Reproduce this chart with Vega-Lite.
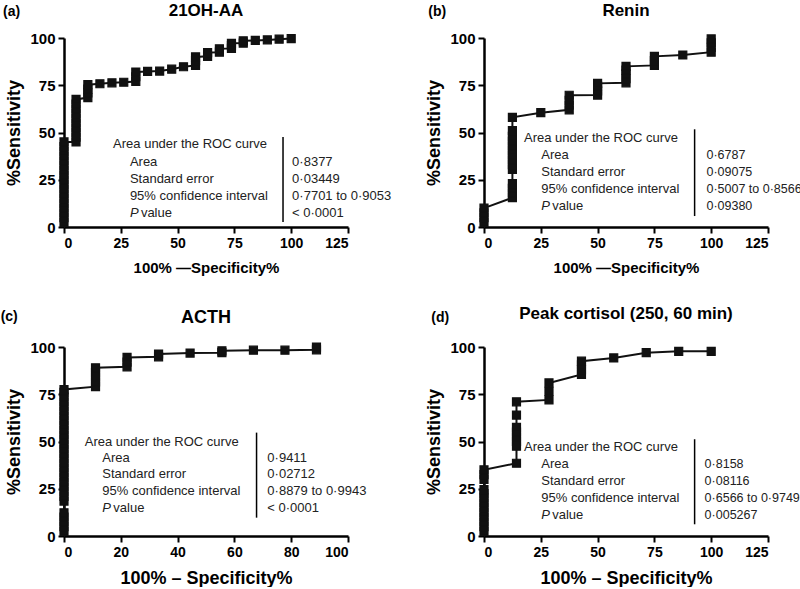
{
  "$schema": "https://vega.github.io/schema/vega-lite/v6.json",
  "padding": {"left": 0, "top": 2, "right": 0, "bottom": 0},
  "background": "white",
  "config": {
    "view": {"stroke": null},
    "font": "Liberation Sans",
    "axis": {
      "grid": false,
      "domainColor": "#000", "domainWidth": 2.5,
      "tickColor": "#000", "tickWidth": 2, "tickSize": 6,
      "labelColor": "#000", "labelFont": "Liberation Sans", "labelFontWeight": "bold", "labelFontSize": 14, "labelPadding": 3,
      "titleColor": "#000", "titleFont": "Liberation Sans", "titleFontWeight": "bold"
    },
    "axisY": {"labelFontSize": 15, "titleFontSize": 18, "titlePadding": 6},
    "axisX": {"titleFontSize": 15, "titlePadding": 10},
    "text": {"font": "Liberation Sans", "fontSize": 13, "color": "#222"},
    "square": {"opacity": 1}
  },
  "datasets": {
    "statsA": [{"letter": "(a)", "name": "21OH-AA", "header": "Area under the ROC curve", "labels": ["Area", "Standard error", "95% confidence interval"], "values": ["0·8377", "0·03449", "0·7701 to 0·9053", "< 0·0001"]}],
    "statsB": [{"letter": "(b)", "name": "Renin", "header": "Area under the ROC curve", "labels": ["Area", "Standard error", "95% confidence interval"], "values": ["0·6787", "0·09075", "0·5007 to 0·8566", "0·09380"]}],
    "statsC": [{"letter": "(c)", "name": "ACTH", "header": "Area under the ROC curve", "labels": ["Area", "Standard error", "95% confidence interval"], "values": ["0·9411", "0·02712", "0·8879 to 0·9943", "< 0·0001"]}],
    "statsD": [{"letter": "(d)", "name": "Peak cortisol (250, 60 min)", "header": "Area under the ROC curve", "labels": ["Area", "Standard error", "95% confidence interval"], "values": ["0·8158", "0·08116", "0·6566 to 0·9749", "0·005267"]}],
    "rocA": [
      {"fpr": 0, "sens": 2.5}, {"fpr": 0, "sens": 5}, {"fpr": 0, "sens": 7.5}, {"fpr": 0, "sens": 10}, {"fpr": 0, "sens": 12.5}, {"fpr": 0, "sens": 15}, {"fpr": 0, "sens": 17.5}, {"fpr": 0, "sens": 20}, {"fpr": 0, "sens": 22.5}, {"fpr": 0, "sens": 25}, {"fpr": 0, "sens": 27.5}, {"fpr": 0, "sens": 30}, {"fpr": 0, "sens": 32.5}, {"fpr": 0, "sens": 35}, {"fpr": 0, "sens": 37.5}, {"fpr": 0, "sens": 40}, {"fpr": 0, "sens": 42.5}, {"fpr": 0, "sens": 45},
      {"fpr": 5.3, "sens": 45}, {"fpr": 5.3, "sens": 47.5}, {"fpr": 5.3, "sens": 50}, {"fpr": 5.3, "sens": 52.5}, {"fpr": 5.3, "sens": 55}, {"fpr": 5.3, "sens": 57.5}, {"fpr": 5.3, "sens": 60}, {"fpr": 5.3, "sens": 62.5}, {"fpr": 5.3, "sens": 65}, {"fpr": 5.3, "sens": 67.5},
      {"fpr": 10.5, "sens": 68.5}, {"fpr": 10.5, "sens": 71}, {"fpr": 10.5, "sens": 73}, {"fpr": 10.5, "sens": 75.3},
      {"fpr": 15.8, "sens": 75.8}, {"fpr": 21.1, "sens": 76.3}, {"fpr": 26.3, "sens": 76.6},
      {"fpr": 31.6, "sens": 77}, {"fpr": 31.6, "sens": 79.5}, {"fpr": 31.6, "sens": 82},
      {"fpr": 36.8, "sens": 82.3}, {"fpr": 42.1, "sens": 82.5}, {"fpr": 47.4, "sens": 83.5}, {"fpr": 52.6, "sens": 84.8},
      {"fpr": 57.9, "sens": 85.5}, {"fpr": 57.9, "sens": 88}, {"fpr": 57.9, "sens": 90},
      {"fpr": 63.2, "sens": 90.3}, {"fpr": 63.2, "sens": 92.3},
      {"fpr": 68.4, "sens": 92.5}, {"fpr": 68.4, "sens": 94.3},
      {"fpr": 73.7, "sens": 94.5}, {"fpr": 73.7, "sens": 96}, {"fpr": 73.7, "sens": 97.2},
      {"fpr": 78.9, "sens": 97.3}, {"fpr": 78.9, "sens": 98.5},
      {"fpr": 84.2, "sens": 98.7}, {"fpr": 89.5, "sens": 99}, {"fpr": 94.7, "sens": 99.4}, {"fpr": 100, "sens": 99.7}
    ],
    "rocB": [
      {"fpr": 0, "sens": 2.5}, {"fpr": 0, "sens": 5}, {"fpr": 0, "sens": 7.5}, {"fpr": 0, "sens": 10},
      {"fpr": 12.5, "sens": 15.5}, {"fpr": 12.5, "sens": 18}, {"fpr": 12.5, "sens": 20.5}, {"fpr": 12.5, "sens": 23}, {"fpr": 12.5, "sens": 30.5}, {"fpr": 12.5, "sens": 33}, {"fpr": 12.5, "sens": 35.5}, {"fpr": 12.5, "sens": 38}, {"fpr": 12.5, "sens": 40.5}, {"fpr": 12.5, "sens": 43}, {"fpr": 12.5, "sens": 45.5}, {"fpr": 12.5, "sens": 48}, {"fpr": 12.5, "sens": 51}, {"fpr": 12.5, "sens": 58},
      {"fpr": 25, "sens": 60.5},
      {"fpr": 37.5, "sens": 62}, {"fpr": 37.5, "sens": 64.5}, {"fpr": 37.5, "sens": 67}, {"fpr": 37.5, "sens": 69.7},
      {"fpr": 50, "sens": 69.8}, {"fpr": 50, "sens": 72}, {"fpr": 50, "sens": 74.5}, {"fpr": 50, "sens": 76},
      {"fpr": 62.5, "sens": 76.3}, {"fpr": 62.5, "sens": 78.5}, {"fpr": 62.5, "sens": 81}, {"fpr": 62.5, "sens": 83}, {"fpr": 62.5, "sens": 85},
      {"fpr": 75, "sens": 85.5}, {"fpr": 75, "sens": 88}, {"fpr": 75, "sens": 90.3},
      {"fpr": 87.5, "sens": 91},
      {"fpr": 100, "sens": 92.5}, {"fpr": 100, "sens": 95}, {"fpr": 100, "sens": 97.5}, {"fpr": 100, "sens": 99.5}
    ],
    "rocC": [
      {"fpr": 0, "sens": 2.5}, {"fpr": 0, "sens": 5}, {"fpr": 0, "sens": 7.5}, {"fpr": 0, "sens": 10}, {"fpr": 0, "sens": 12.3},
      {"fpr": 0, "sens": 18.5}, {"fpr": 0, "sens": 21}, {"fpr": 0, "sens": 23.5}, {"fpr": 0, "sens": 26}, {"fpr": 0, "sens": 28.5}, {"fpr": 0, "sens": 31}, {"fpr": 0, "sens": 33.5}, {"fpr": 0, "sens": 36}, {"fpr": 0, "sens": 38.5}, {"fpr": 0, "sens": 41}, {"fpr": 0, "sens": 43.5}, {"fpr": 0, "sens": 46}, {"fpr": 0, "sens": 48.5}, {"fpr": 0, "sens": 51}, {"fpr": 0, "sens": 53.5}, {"fpr": 0, "sens": 56}, {"fpr": 0, "sens": 58.5}, {"fpr": 0, "sens": 61}, {"fpr": 0, "sens": 63.5}, {"fpr": 0, "sens": 66}, {"fpr": 0, "sens": 68.5}, {"fpr": 0, "sens": 71}, {"fpr": 0, "sens": 73.5}, {"fpr": 0, "sens": 76}, {"fpr": 0, "sens": 77.5},
      {"fpr": 11.1, "sens": 79}, {"fpr": 11.1, "sens": 81.5}, {"fpr": 11.1, "sens": 84}, {"fpr": 11.1, "sens": 86.5}, {"fpr": 11.1, "sens": 89},
      {"fpr": 22.2, "sens": 89.5}, {"fpr": 22.2, "sens": 92}, {"fpr": 22.2, "sens": 94.5},
      {"fpr": 33.3, "sens": 94.8}, {"fpr": 33.3, "sens": 96.3},
      {"fpr": 44.4, "sens": 96.8},
      {"fpr": 55.6, "sens": 97}, {"fpr": 55.6, "sens": 98},
      {"fpr": 66.7, "sens": 98.3}, {"fpr": 77.8, "sens": 98.3},
      {"fpr": 88.9, "sens": 98.5}, {"fpr": 88.9, "sens": 100}
    ],
    "rocD": [
      {"fpr": 0, "sens": 2.5}, {"fpr": 0, "sens": 5}, {"fpr": 0, "sens": 7.5}, {"fpr": 0, "sens": 10}, {"fpr": 0, "sens": 12.5}, {"fpr": 0, "sens": 15}, {"fpr": 0, "sens": 17.5}, {"fpr": 0, "sens": 20}, {"fpr": 0, "sens": 22.5}, {"fpr": 0, "sens": 24.5}, {"fpr": 0, "sens": 30}, {"fpr": 0, "sens": 32.5}, {"fpr": 0, "sens": 35},
      {"fpr": 14.3, "sens": 38.5}, {"fpr": 14.3, "sens": 47.5}, {"fpr": 14.3, "sens": 50}, {"fpr": 14.3, "sens": 52.5}, {"fpr": 14.3, "sens": 55}, {"fpr": 14.3, "sens": 57.5}, {"fpr": 14.3, "sens": 64}, {"fpr": 14.3, "sens": 71},
      {"fpr": 28.6, "sens": 72}, {"fpr": 28.6, "sens": 76.5}, {"fpr": 28.6, "sens": 81},
      {"fpr": 42.9, "sens": 85.5}, {"fpr": 42.9, "sens": 88}, {"fpr": 42.9, "sens": 90.5}, {"fpr": 42.9, "sens": 92.5},
      {"fpr": 57.1, "sens": 94.2}, {"fpr": 71.4, "sens": 97}, {"fpr": 85.7, "sens": 97.7}, {"fpr": 100, "sens": 97.7}
    ]
  },
  "columns": 2,
  "spacing": {"row": 120, "column": 136},
  "bounds": "flush",
  "concat": [
    {
      "width": 284, "height": 189,
      "data": {"name": "statsA"},
      "layer": [
        {"data": {"name": "rocA"},
         "mark": {"type": "line", "color": "#111", "strokeWidth": 2},
         "encoding": {
           "x": {"field": "fpr", "type": "quantitative", "scale": {"domain": [0, 125], "nice": false}, "axis": {"values": [0, 25, 50, 75, 100, 125], "title": "100% —Specificity%"}},
           "y": {"field": "sens", "type": "quantitative", "scale": {"domain": [0, 100], "nice": false}, "axis": {"values": [0, 25, 50, 75, 100], "title": "%Sensitivity"}},
           "order": [{"field": "fpr", "type": "quantitative"}, {"field": "sens", "type": "quantitative"}]
         }},
        {"data": {"name": "rocA"},
         "mark": {"type": "square", "size": 64, "color": "#111", "opacity": 1, "stroke": "#111", "strokeWidth": 1.2},
         "encoding": {"x": {"field": "fpr", "type": "quantitative"}, "y": {"field": "sens", "type": "quantitative"}}},
        {"mark": {"type": "text", "align": "center", "baseline": "alphabetic", "fontWeight": "bold", "fontSize": 17, "color": "#000"},
         "encoding": {"x": {"datum": 62.5}, "y": {"datum": 111.6}, "text": {"field": "name"}}},
        {"mark": {"type": "text", "align": "left", "baseline": "alphabetic", "fontWeight": "bold", "fontSize": 14, "color": "#000"},
         "encoding": {"x": {"datum": -26.8}, "y": {"datum": 111.9}, "text": {"field": "letter"}}},
        {"mark": {"type": "text", "align": "left", "baseline": "middle"},
         "encoding": {"x": {"datum": 21.6}, "y": {"datum": 43.7}, "text": {"field": "header"}}},
        {"mark": {"type": "text", "align": "left", "baseline": "middle", "lineHeight": 17},
         "encoding": {"x": {"datum": 29.0}, "y": {"datum": 34.4}, "text": {"field": "labels"}}},
        {"mark": {"type": "text", "align": "left", "baseline": "middle", "fontStyle": "italic", "text": "P"},
         "encoding": {"x": {"datum": 29.0}, "y": {"datum": 7.4}}},
        {"mark": {"type": "text", "align": "left", "baseline": "middle", "dx": 11, "text": "value"},
         "encoding": {"x": {"datum": 29.0}, "y": {"datum": 7.4}}},
        {"mark": {"type": "text", "align": "left", "baseline": "middle", "lineHeight": 17},
         "encoding": {"x": {"datum": 100.4}, "y": {"datum": 34.4}, "text": {"field": "values"}}},
        {"mark": {"type": "rule", "color": "#000", "strokeWidth": 1.5},
         "encoding": {"x": {"datum": 96.4}, "y": {"datum": 47.6}, "y2": {"datum": 2.6}}}
      ]
    },
    {
      "width": 284, "height": 189,
      "data": {"name": "statsB"},
      "layer": [
        {"data": {"name": "rocB"},
         "mark": {"type": "line", "color": "#111", "strokeWidth": 2},
         "encoding": {
           "x": {"field": "fpr", "type": "quantitative", "scale": {"domain": [0, 125], "nice": false}, "axis": {"values": [0, 25, 50, 75, 100, 125], "title": "100% —Specificity%"}},
           "y": {"field": "sens", "type": "quantitative", "scale": {"domain": [0, 100], "nice": false}, "axis": {"values": [0, 25, 50, 75, 100], "title": "%Sensitivity"}},
           "order": [{"field": "fpr", "type": "quantitative"}, {"field": "sens", "type": "quantitative"}]
         }},
        {"data": {"name": "rocB"},
         "mark": {"type": "square", "size": 64, "color": "#111", "opacity": 1, "stroke": "#111", "strokeWidth": 1.2},
         "encoding": {"x": {"field": "fpr", "type": "quantitative"}, "y": {"field": "sens", "type": "quantitative"}}},
        {"mark": {"type": "text", "align": "center", "baseline": "alphabetic", "fontWeight": "bold", "fontSize": 17, "color": "#000"},
         "encoding": {"x": {"datum": 62.5}, "y": {"datum": 111.6}, "text": {"field": "name"}}},
        {"mark": {"type": "text", "align": "left", "baseline": "alphabetic", "fontWeight": "bold", "fontSize": 14, "color": "#000"},
         "encoding": {"x": {"datum": -24.5}, "y": {"datum": 111.9}, "text": {"field": "letter"}}},
        {"mark": {"type": "text", "align": "left", "baseline": "middle"},
         "encoding": {"x": {"datum": 17.6}, "y": {"datum": 46.9}, "text": {"field": "header"}}},
        {"mark": {"type": "text", "align": "left", "baseline": "middle", "lineHeight": 17},
         "encoding": {"x": {"datum": 25.2}, "y": {"datum": 37.9}, "text": {"field": "labels"}}},
        {"mark": {"type": "text", "align": "left", "baseline": "middle", "fontStyle": "italic", "text": "P"},
         "encoding": {"x": {"datum": 25.2}, "y": {"datum": 11.1}}},
        {"mark": {"type": "text", "align": "left", "baseline": "middle", "dx": 11, "text": "value"},
         "encoding": {"x": {"datum": 25.2}, "y": {"datum": 11.1}}},
        {"mark": {"type": "text", "align": "left", "baseline": "middle", "lineHeight": 17, "fontSize": 12.5},
         "encoding": {"x": {"datum": 97.9}, "y": {"datum": 37.9}, "text": {"field": "values"}}},
        {"mark": {"type": "rule", "color": "#000", "strokeWidth": 1.5},
         "encoding": {"x": {"datum": 92.7}, "y": {"datum": 51.7}, "y2": {"datum": 5.8}}}
      ]
    },
    {
      "width": 284, "height": 189,
      "data": {"name": "statsC"},
      "layer": [
        {"data": {"name": "rocC"},
         "mark": {"type": "line", "color": "#111", "strokeWidth": 2},
         "encoding": {
           "x": {"field": "fpr", "type": "quantitative", "scale": {"domain": [0, 100], "nice": false}, "axis": {"values": [0, 10, 20, 30, 40, 50, 60, 70, 80, 90, 100], "title": "100% – Specificity%", "titleFontSize": 18}},
           "y": {"field": "sens", "type": "quantitative", "scale": {"domain": [0, 100], "nice": false}, "axis": {"values": [0, 25, 50, 75, 100], "title": "%Sensitivity"}},
           "order": [{"field": "fpr", "type": "quantitative"}, {"field": "sens", "type": "quantitative"}]
         }},
        {"data": {"name": "rocC"},
         "mark": {"type": "square", "size": 64, "color": "#111", "opacity": 1, "stroke": "#111", "strokeWidth": 1.2},
         "encoding": {"x": {"field": "fpr", "type": "quantitative"}, "y": {"field": "sens", "type": "quantitative"}}},
        {"mark": {"type": "text", "align": "center", "baseline": "alphabetic", "fontWeight": "bold", "fontSize": 18, "color": "#000"},
         "encoding": {"x": {"datum": 50}, "y": {"datum": 112.9}, "text": {"field": "name"}}},
        {"mark": {"type": "text", "align": "left", "baseline": "alphabetic", "fontWeight": "bold", "fontSize": 14, "color": "#000"},
         "encoding": {"x": {"datum": -22.3}, "y": {"datum": 113.5}, "text": {"field": "letter"}}},
        {"mark": {"type": "text", "align": "left", "baseline": "middle"},
         "encoding": {"x": {"datum": 7.3}, "y": {"datum": 49.9}, "text": {"field": "header"}}},
        {"mark": {"type": "text", "align": "left", "baseline": "middle", "lineHeight": 16.7},
         "encoding": {"x": {"datum": 13.5}, "y": {"datum": 41.4}, "text": {"field": "labels"}}},
        {"mark": {"type": "text", "align": "left", "baseline": "middle", "fontStyle": "italic", "text": "P"},
         "encoding": {"x": {"datum": 13.5}, "y": {"datum": 15.0}}},
        {"mark": {"type": "text", "align": "left", "baseline": "middle", "dx": 11, "text": "value"},
         "encoding": {"x": {"datum": 13.5}, "y": {"datum": 15.0}}},
        {"mark": {"type": "text", "align": "left", "baseline": "middle", "lineHeight": 16.7},
         "encoding": {"x": {"datum": 71.6}, "y": {"datum": 41.4}, "text": {"field": "values"}}},
        {"mark": {"type": "rule", "color": "#000", "strokeWidth": 1.5},
         "encoding": {"x": {"datum": 67.8}, "y": {"datum": 54.7}, "y2": {"datum": 9.7}}}
      ]
    },
    {
      "width": 284, "height": 189,
      "data": {"name": "statsD"},
      "layer": [
        {"data": {"name": "rocD"},
         "mark": {"type": "line", "color": "#111", "strokeWidth": 2},
         "encoding": {
           "x": {"field": "fpr", "type": "quantitative", "scale": {"domain": [0, 125], "nice": false}, "axis": {"values": [0, 25, 50, 75, 100, 125], "title": "100% – Specificity%", "titleFontSize": 18}},
           "y": {"field": "sens", "type": "quantitative", "scale": {"domain": [0, 100], "nice": false}, "axis": {"values": [0, 25, 50, 75, 100], "title": "%Sensitivity"}},
           "order": [{"field": "fpr", "type": "quantitative"}, {"field": "sens", "type": "quantitative"}]
         }},
        {"data": {"name": "rocD"},
         "mark": {"type": "square", "size": 64, "color": "#111", "opacity": 1, "stroke": "#111", "strokeWidth": 1.2},
         "encoding": {"x": {"field": "fpr", "type": "quantitative"}, "y": {"field": "sens", "type": "quantitative"}}},
        {"mark": {"type": "text", "align": "center", "baseline": "alphabetic", "fontWeight": "bold", "fontSize": 17, "color": "#000"},
         "encoding": {"x": {"datum": 62.5}, "y": {"datum": 114.7}, "text": {"field": "name"}}},
        {"mark": {"type": "text", "align": "left", "baseline": "alphabetic", "fontWeight": "bold", "fontSize": 14, "color": "#000"},
         "encoding": {"x": {"datum": -23.2}, "y": {"datum": 113.2}, "text": {"field": "letter"}}},
        {"mark": {"type": "text", "align": "left", "baseline": "middle"},
         "encoding": {"x": {"datum": 17.6}, "y": {"datum": 47.1}, "text": {"field": "header"}}},
        {"mark": {"type": "text", "align": "left", "baseline": "middle", "lineHeight": 17},
         "encoding": {"x": {"datum": 25.2}, "y": {"datum": 37.9}, "text": {"field": "labels"}}},
        {"mark": {"type": "text", "align": "left", "baseline": "middle", "fontStyle": "italic", "text": "P"},
         "encoding": {"x": {"datum": 25.2}, "y": {"datum": 11.1}}},
        {"mark": {"type": "text", "align": "left", "baseline": "middle", "dx": 11, "text": "value"},
         "encoding": {"x": {"datum": 25.2}, "y": {"datum": 11.1}}},
        {"mark": {"type": "text", "align": "left", "baseline": "middle", "lineHeight": 17, "fontSize": 12.5},
         "encoding": {"x": {"datum": 97.1}, "y": {"datum": 37.9}, "text": {"field": "values"}}},
        {"mark": {"type": "rule", "color": "#000", "strokeWidth": 1.5},
         "encoding": {"x": {"datum": 92.7}, "y": {"datum": 51.2}, "y2": {"datum": 6.2}}}
      ]
    }
  ]
}
